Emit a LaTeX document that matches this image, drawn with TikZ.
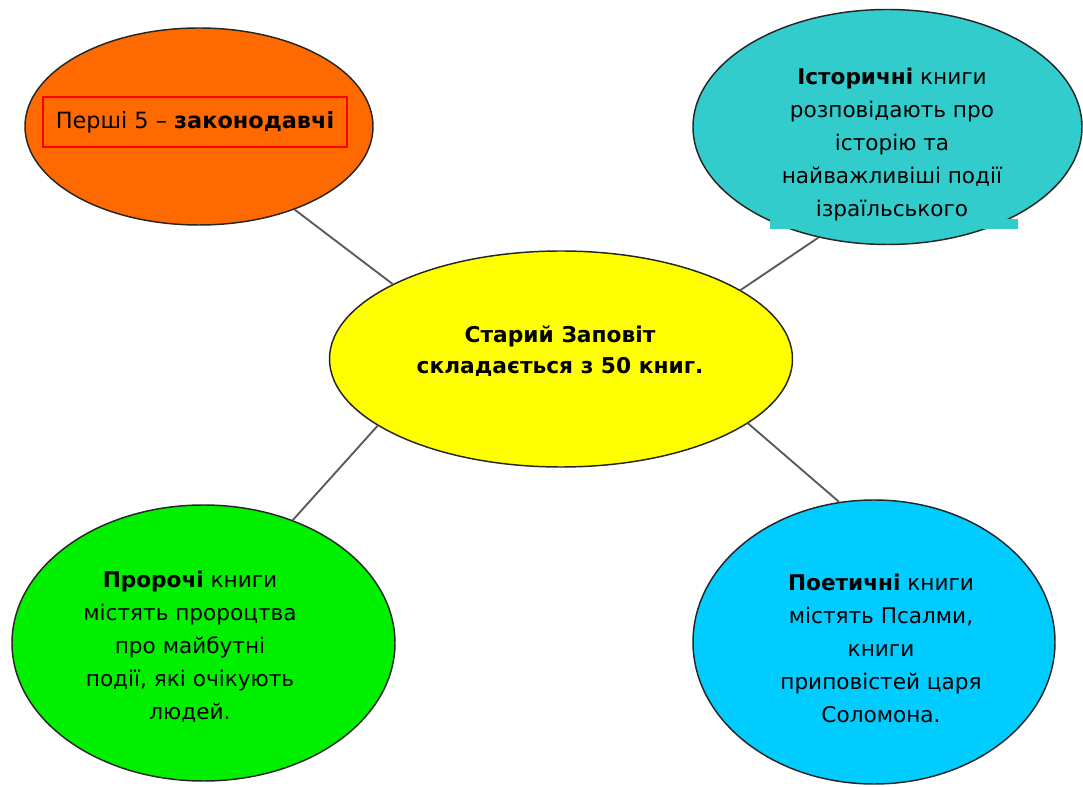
\documentclass[tikz,border=0pt]{standalone}
\usepackage{fontspec}
\setmainfont{DejaVu Sans}
\usetikzlibrary{shapes.geometric}
\definecolor{corange}{HTML}{FF6A00}
\definecolor{cteal}{HTML}{33CCCC}
\definecolor{cyellow}{HTML}{FFFF00}
\definecolor{cgreen}{HTML}{00F000}
\definecolor{cblue}{HTML}{00CCFF}
\definecolor{cline}{HTML}{5A5A5A}
\begin{document}
\begin{tikzpicture}[x=0.75pt,y=-0.75pt,
  bubble/.style={ellipse, draw=black!85, line width=1.1pt, inner sep=0pt},
  label/.style={align=center, inner sep=0pt, font=\fontsize{16.2}{24.75}\selectfont},
  link/.style={draw=cline, line width=1.4pt}]
\useasboundingbox (0,0) rectangle (1083,787);
\fill[white] (0,0) rectangle (1083,787);

\node[bubble, fill=corange, minimum width=261pt, minimum height=147.75pt] (tl) at (199,126.5) {};
\node[bubble, fill=cteal, minimum width=291.75pt, minimum height=176.25pt] (tr) at (887.5,127) {};
\node[bubble, fill=cyellow, minimum width=347.25pt, minimum height=162pt] (c) at (561,359) {};
\node[bubble, fill=cgreen, minimum width=287.25pt, minimum height=207pt] (bl) at (203.5,643) {};
\node[bubble, fill=cblue, minimum width=271.5pt, minimum height=213pt] (br) at (874,642) {};

\node[fill=cteal, inner sep=0pt, minimum width=186pt, minimum height=7.5pt] (trbar) at (894,224) {};

\node[draw=red, line width=0.9pt, minimum width=228pt, minimum height=37.5pt, inner sep=0pt,
      font=\fontsize{16.8}{18}\selectfont] (tltext) at (195,122) {Перші 5 – \textbf{законодавчі}};
\node[label] (trtext) at (892,145) {\textbf{Історичні} книги\\розповідають про\\історію та\\найважливіші події\\ізраїльського};
\node[label, font=\bfseries\fontsize{16.3}{23.25}\selectfont] (ctext) at (560,351) {Старий Заповіт\\складається з 50 книг.};
\node[label] (bltext) at (190,647) {\textbf{Пророчі} книги\\містять пророцтва\\про майбутні\\події, які очікують\\людей.};
\node[label] (brtext) at (881,648) {\textbf{Поетичні} книги\\містять Псалми,\\книги\\приповістей царя\\Соломона.};

\draw[link] (tl.-41) -- (c.156);
\draw[link] (tr.238.7) -- (c.21.4);
\draw[link] (bl.54.7) -- (c.200.9);
\draw[link] (br.104.6) -- (c.-19.8);
\end{tikzpicture}
\end{document}
